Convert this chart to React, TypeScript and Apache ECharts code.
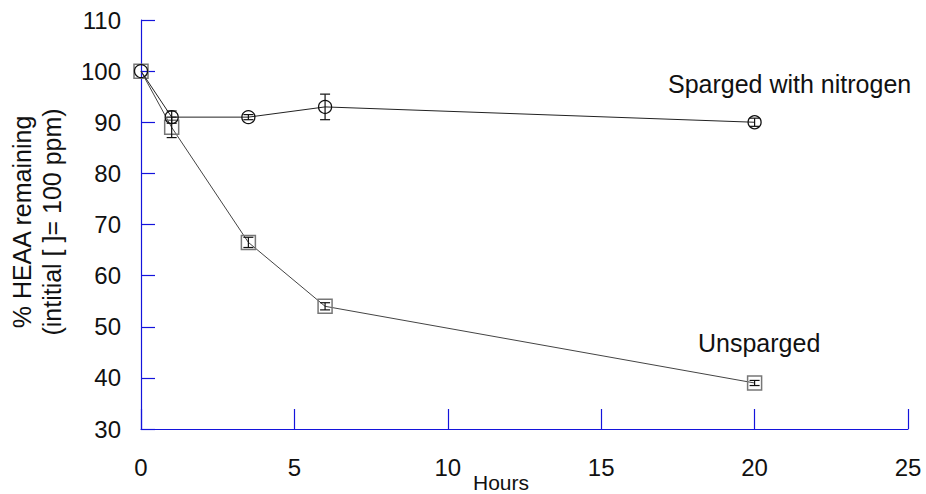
import React, { useEffect, useRef } from "react";
import * as echarts from "echarts";

const hours = [0, 1, 3.5, 6, 20];
const sparged = [100, 91, 91, 93, 90];
const spargedErr = [0, 1.2, 0.5, 2.5, 0.8];
const unsparged = [100, 89, 66.5, 54, 39];
const unspargedErr = [0, 2, 1, 0.7, 0.5];
const xTicks = [0, 5, 10, 15, 20, 25];
const yTicks = [30, 40, 50, 60, 70, 80, 90, 100, 110];

const AXIS_BLUE = "#1414dc";
const FONT = "'Liberation Sans', Arial, sans-serif";

function errorSeries(name: string, ys: number[], errs: number[]) {
  const data = hours
    .map((h, i) => [h, ys[i] - errs[i], ys[i] + errs[i]])
    .filter((_, i) => errs[i] > 0);
  return {
    name,
    type: "custom",
    z: 5,
    data,
    renderItem: (params: any, api: any) => {
      const x = api.value(0);
      const lo = api.coord([x, api.value(1)]);
      const hi = api.coord([x, api.value(2)]);
      const half = 5;
      const style = { stroke: "#111", lineWidth: 1.2 };
      return {
        type: "group",
        children: [
          { type: "line", shape: { x1: lo[0], y1: lo[1], x2: hi[0], y2: hi[1] }, style },
          { type: "line", shape: { x1: lo[0] - half, y1: lo[1], x2: lo[0] + half, y2: lo[1] }, style },
          { type: "line", shape: { x1: hi[0] - half, y1: hi[1], x2: hi[0] + half, y2: hi[1] }, style },
        ],
      };
    },
  };
}

export default function App() {
  const ref = useRef<HTMLDivElement>(null);
  useEffect(() => {
    if (!ref.current) return;
    const chart = echarts.init(ref.current, undefined, { renderer: "svg" });
    chart.setOption({
      animation: false,
      backgroundColor: "#ffffff",
      textStyle: { fontFamily: FONT },
      grid: { left: 141, right: 18, top: 20, bottom: 65 },
      xAxis: {
        type: "value",
        min: xTicks[0],
        max: xTicks[xTicks.length - 1],
        interval: 5,
        splitLine: { show: false },
        axisLine: { show: true, onZero: false, lineStyle: { color: AXIS_BLUE, width: 1.2 } },
        axisTick: { show: true, inside: true, length: 20, lineStyle: { color: AXIS_BLUE, width: 1.2 } },
        axisLabel: { color: "#111", fontSize: 24, fontFamily: FONT, margin: 26 },
      },
      yAxis: {
        type: "value",
        min: yTicks[0],
        max: yTicks[yTicks.length - 1],
        interval: 10,
        splitLine: { show: false },
        axisLine: { show: true, onZero: false, lineStyle: { color: AXIS_BLUE, width: 1.2 } },
        axisTick: { show: true, inside: true, length: 14, lineStyle: { color: AXIS_BLUE, width: 1.2 } },
        axisLabel: { color: "#111", fontSize: 24, fontFamily: FONT, margin: 20 },
      },
      graphic: [
        {
          type: "text",
          x: 37,
          y: 222,
          rotation: Math.PI / 2,
          style: {
            text: "% HEAA remaining\n(intitial [ ]= 100 ppm)",
            fontSize: 25,
            lineHeight: 30,
            fontFamily: FONT,
            fill: "#111",
            textAlign: "center",
            textVerticalAlign: "middle",
          },
        },
        {
          type: "text",
          x: 501,
          y: 482,
          style: {
            text: "Hours",
            fontSize: 21,
            fontFamily: FONT,
            fill: "#111",
            textAlign: "center",
            textVerticalAlign: "middle",
          },
        },
        {
          type: "text",
          x: 668,
          y: 84,
          style: {
            text: "Sparged with nitrogen",
            fontSize: 25,
            fontFamily: FONT,
            fill: "#111",
            textAlign: "left",
            textVerticalAlign: "middle",
          },
        },
        {
          type: "text",
          x: 698,
          y: 343,
          style: {
            text: "Unsparged",
            fontSize: 25,
            fontFamily: FONT,
            fill: "#111",
            textAlign: "left",
            textVerticalAlign: "middle",
          },
        },
      ],
      series: [
        {
          name: "Unsparged",
          type: "line",
          data: hours.map((h, i) => [h, unsparged[i]]),
          symbol: "rect",
          symbolSize: 14,
          showAllSymbol: true,
          lineStyle: { color: "#444", width: 1 },
          itemStyle: { color: "rgba(0,0,0,0)", borderColor: "#777", borderWidth: 1.5 },
          z: 3,
        },
        {
          name: "Sparged with nitrogen",
          type: "line",
          data: hours.map((h, i) => [h, sparged[i]]),
          symbol: "circle",
          symbolSize: 13,
          showAllSymbol: true,
          lineStyle: { color: "#222", width: 1 },
          itemStyle: { color: "rgba(0,0,0,0)", borderColor: "#111", borderWidth: 1.3 },
          z: 4,
        },
        errorSeries("Unsparged error", unsparged, unspargedErr),
        errorSeries("Sparged error", sparged, spargedErr),
      ],
    });
    return () => chart.dispose();
  }, []);
  return (
    <div
      ref={ref}
      style={{ position: "fixed", left: 0, top: 0, width: 926, height: 494 }}
    />
  );
}
